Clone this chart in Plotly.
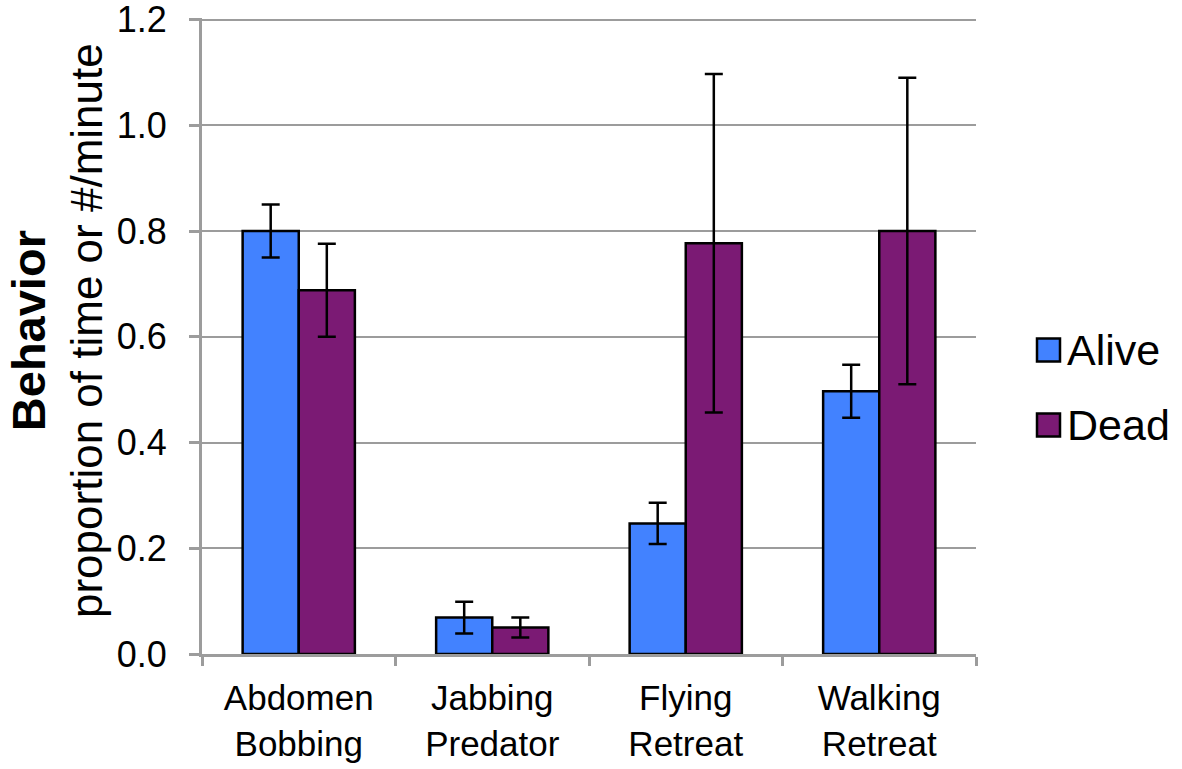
import plotly.graph_objects as go

categories = ["Abdomen<br>Bobbing", "Jabbing<br>Predator", "Flying<br>Retreat", "Walking<br>Retreat"]
alive = [0.80, 0.069, 0.247, 0.497]
alive_err = [0.05, 0.030, 0.039, 0.050]
dead = [0.688, 0.050, 0.777, 0.800]
dead_err = [0.088, 0.019, 0.320, 0.290]
series_names = ["Alive", "Dead"]
series_colors = ["#4282FF", "#7B1A74"]
y_ticks = [0.0, 0.2, 0.4, 0.6, 0.8, 1.0, 1.2]
y_tick_text = ["0.0", "0.2", "0.4", "0.6", "0.8", "1.0", "1.2"]
y_title_bold = "Behavior"
y_title_rest = "proportion of time or #/minute"

FONT = "Liberation Sans, Arial, Helvetica, sans-serif"
GRAY = "#9c9c9c"

fig = go.Figure()
for name, vals, errs, col in zip(series_names, [alive, dead], [alive_err, dead_err], series_colors):
    fig.add_trace(go.Bar(
        x=categories, y=vals, name=name,
        marker=dict(color=col, line=dict(color="black", width=2.5)),
        error_y=dict(type="data", array=errs, visible=True, color="black", thickness=2.5, width=9),
        showlegend=False,
    ))

# body margin is removed by post_script, so figure fills the window
W, H = 1182, 769
YMAX = 1.203
# desired: 1.2 at page y 19.5, 0 at 654
px_per_unit = (654 - 19.5) / 1.2
T = round(19.5 - (YMAX - 1.2) * px_per_unit)
L = 202
R = W - 976
B = H - 654
pw, ph = W - L - R, H - T - B

def px_x(px):
    return (px - L) / pw

def px_y(py):
    return (H - B - py) / ph

# legend (manual, to match large swatches)
legend_y = [350, 425]
for name, col, cy in zip(series_names, series_colors, legend_y):
    fig.add_shape(type="rect", xref="paper", yref="paper",
                  x0=px_x(1037), x1=px_x(1060), y0=px_y(cy + 11.5), y1=px_y(cy - 11.5),
                  fillcolor=col, line=dict(color="black", width=2.5))
    fig.add_annotation(xref="paper", yref="paper", x=px_x(1065), y=px_y(cy),
                       text=name, showarrow=False, xanchor="left", yanchor="middle",
                       font=dict(family=FONT, size=43, color="black"))

# y-axis title (two lines, rotated)
fig.add_annotation(xref="paper", yref="paper", x=px_x(57), y=px_y(331),
                   text=f"<span style='font-size:47px'><b>{y_title_bold}</b></span><br>{y_title_rest}",
                   textangle=-90, showarrow=False, xanchor="center", yanchor="middle",
                   font=dict(family=FONT, size=44, color="black"))

fig.update_layout(
    width=W, height=H,
    margin=dict(l=L, r=R, t=T, b=B, pad=0, autoexpand=False),
    paper_bgcolor="white", plot_bgcolor="white",
    barmode="group", bargap=0.42, bargroupgap=0.0,
    font=dict(family=FONT, color="black"),
    xaxis=dict(
        type="category", showline=True, linecolor=GRAY, linewidth=3,
        ticks="outside", tickson="boundaries", ticklen=9, tickwidth=3, tickcolor=GRAY,
        tickfont=dict(family=FONT, size=35, color="black"),
        ticklabelstandoff=11,
        showgrid=False, zeroline=False,
    ),
    yaxis=dict(
        range=[0, YMAX], tickvals=y_ticks, ticktext=y_tick_text,
        showline=True, linecolor=GRAY, linewidth=3,
        ticks="outside", ticklen=10, tickwidth=3, tickcolor=GRAY,
        tickfont=dict(family=FONT, size=36, color="black"),
        ticklabelstandoff=15, ticklabeloverflow="allow",
        showgrid=True, gridcolor=GRAY, gridwidth=2, zeroline=False,
    ),
)

fig.write_html("out.html", config={"displayModeBar": False},
               post_script="document.body.style.margin='0';document.body.style.overflow='hidden';")
